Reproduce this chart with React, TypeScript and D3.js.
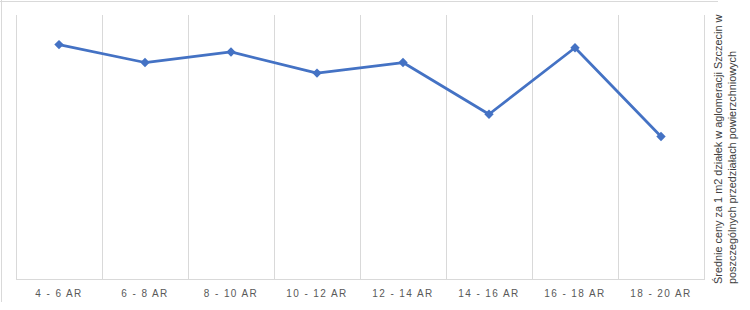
import React from "react";
import * as d3 from "d3";

const categories = ["4 - 6 AR", "6 - 8 AR", "8 - 10 AR", "10 - 12 AR", "12 - 14 AR", "14 - 16 AR", "16 - 18 AR", "18 - 20 AR"];
const values = [222, 205, 215, 195, 205, 156, 219, 135];
const yDomain = [0, 250];
const titleLines = [
  "Średnie ceny za 1 m2 działek w aglomeracji Szczecin w",
  "poszczególnych przedziałach powierzchniowych",
];

const W = 750;
const H = 310;
const plot = { left: 16, right: 704, top: 15, bottom: 279 };

export default function App() {
  const x = d3.scaleBand<string>().domain(categories).range([plot.left, plot.right]);
  const y = d3.scaleLinear().domain(yDomain).range([plot.bottom, plot.top]);
  const cx = (c: string) => (x(c) ?? 0) + x.bandwidth() / 2;
  const line = d3
    .line<number>()
    .x((_, i) => cx(categories[i]))
    .y((v) => y(v));
  const diamond = d3.symbol().type(d3.symbolSquare).size(44)();
  const boundaries = [...categories.map((c) => x(c) ?? 0), plot.right];
  const grid = "#d9d9d9";

  return (
    <svg
      width={W}
      height={H}
      style={{ position: "absolute", left: 0, top: 0, background: "#fff" }}
      fontFamily="'Liberation Sans', Arial, sans-serif"
    >
      {/* outer frame remnants */}
      <line x1={0} x2={718} y1={1.5} y2={1.5} stroke={grid} strokeWidth={1} />
      <line x1={1.5} x2={1.5} y1={0} y2={302} stroke={grid} strokeWidth={1} />

      {boundaries.map((bx, i) => (
        <line key={i} x1={bx + 0.5} x2={bx + 0.5} y1={plot.top} y2={plot.bottom} stroke={grid} strokeWidth={1} />
      ))}
      <line x1={plot.left} x2={plot.right + 1} y1={plot.bottom + 0.5} y2={plot.bottom + 0.5} stroke={grid} strokeWidth={1} />

      <path d={line(values) ?? ""} fill="none" stroke="#4472C4" strokeWidth={2.75} strokeLinejoin="round" />
      {values.map((v, i) => (
        <path
          key={i}
          d={diamond ?? ""}
          transform={`translate(${cx(categories[i])},${y(v)}) rotate(45)`}
          fill="#4472C4"
        />
      ))}

      {categories.map((c) => (
        <text
          key={c}
          x={cx(c)}
          y={297}
          textAnchor="middle"
          fontSize={10}
          letterSpacing={1.4}
          fill="#595959"
        >
          {c}
        </text>
      ))}

      {titleLines.map((t, i) => (
        <text
          key={i}
          transform={`translate(${722 + i * 14},284) rotate(-90)`}
          fontSize={10.9}
          fill="#404040"
        >
          {t}
        </text>
      ))}
    </svg>
  );
}
